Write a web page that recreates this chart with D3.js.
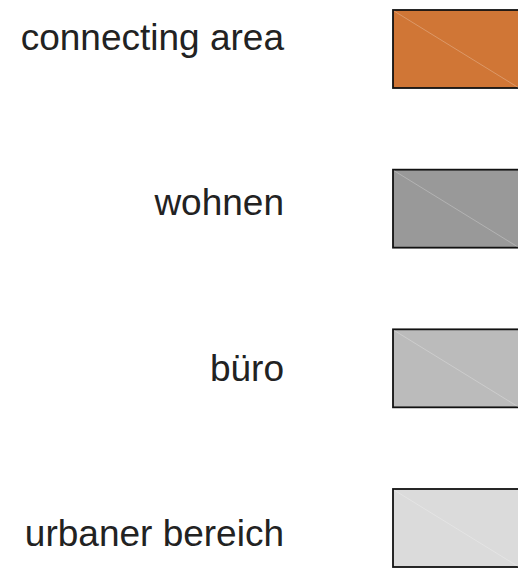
<!DOCTYPE html>
<html>
<head>
<meta charset="utf-8">
<script src="https://cdn.jsdelivr.net/npm/d3@7"></script>
<style>
  html, body { margin: 0; padding: 0; background: #fff; }
</style>
</head>
<body>
<div id="legend"></div>
<script>
const categories = ["connecting area", "wohnen", "büro", "urbaner bereich"];
const colors = ["#D07636", "#999999", "#BBBBBB", "#DBDBDB"];

function setupLegend({width, height, id}) {
    const svg = d3.select('#' + id).append('svg')
        .attr('width', width)
        .attr('height', height)
        .style("font-family", "'Liberation Sans', Arial, sans-serif");

    const idx = d3.range(categories.length);

    // swatch tops and label baselines
    const yBox = d3.scaleLinear().domain([0, categories.length - 1]).range([10, 489]);
    const yText = d3.scaleLinear().domain([0, categories.length - 1]).range([50, 546]);
    const color = d3.scaleOrdinal().domain(categories).range(colors);

    const boxX = 393, boxW = 130, boxH = 78;

    const item = svg.selectAll('.item')
        .data(idx)
        .enter()
        .append('g')
        .attr('class', 'item');

    item.append('rect')
        .attr('x', boxX)
        .attr('y', i => yBox(i))
        .attr('width', boxW)
        .attr('height', boxH)
        .attr('fill', i => color(categories[i]))
        .attr('stroke', '#111')
        .attr('stroke-width', 1.8);

    // faint diagonal across each swatch
    item.append('line')
        .attr('x1', boxX + 1)
        .attr('y1', i => yBox(i) + 1)
        .attr('x2', boxX + 126)
        .attr('y2', i => yBox(i) + boxH)
        .attr('stroke', 'rgba(255,255,255,0.25)')
        .attr('stroke-width', 1);

    item.append('text')
        .attr('x', 284)
        .attr('y', i => yText(i))
        .attr('text-anchor', 'end')
        .attr('font-size', 37)
        .attr('fill', '#222')
        .text(i => categories[i]);

    return {};
}

setupLegend({width: 518, height: 569, id: 'legend'});
</script>
</body>
</html>
